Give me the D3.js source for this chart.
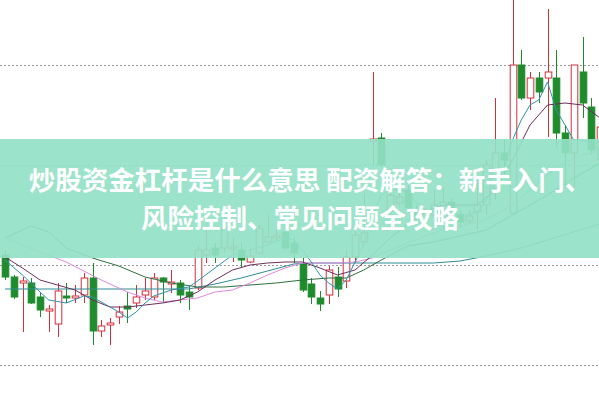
<!DOCTYPE html>
<html>
<head>
<meta charset="utf-8">
<script src="https://cdn.jsdelivr.net/npm/d3@7"></script>
<style>
	html, body { margin: 0; padding: 0; background: #fff; overflow: hidden; }
	#chart { display: block; }
</style>
</head>
<body>
<svg id="chart"></svg>
<script>
// candle data, one entry per trading day
var opens  = [ 11.10, 10.88, 10.82, 10.82, 10.68, 10.54, 10.41, 10.69, 10.67, 10.70,
               10.87, 10.34, 10.40, 10.48, 10.59, 10.62, 10.70, 10.68, 10.87, 10.81,
               10.82, 10.73, 10.77, 11.10, 11.17, 11.17, 11.16, 11.15, 11.03, 11.12,
               11.23, 11.27, 11.33, 11.22, 11.01, 10.81, 10.67, 10.70, 10.88, 10.84,
               11.08, 11.23, 12.24, 12.27, 11.55, 11.62, 11.75, 11.55, 11.45, 11.50,
               11.48, 11.63, 11.50, 11.44, 11.53, 11.60, 11.72, 12.12, 11.52, 13.00,
               12.67, 12.87, 12.87, 12.87, 12.32, 12.12, 12.93, 12.58, 12.05 ];
var closes = [ 10.88, 10.68, 10.84, 10.62, 10.55, 10.56, 10.74, 10.67, 10.69, 10.87,
               10.34, 10.39, 10.42, 10.53, 10.56, 10.68, 10.74, 10.87, 10.83, 10.83,
               10.70, 10.68, 11.15, 11.15, 11.10, 11.37, 11.18, 11.05, 11.09, 11.37,
               11.28, 11.29, 11.17, 11.12, 10.75, 10.68, 10.61, 10.95, 10.76, 11.08,
               11.30, 11.32, 12.26, 12.00, 11.70, 11.68, 11.57, 11.47, 11.53, 11.60,
               11.63, 11.55, 11.43, 11.49, 11.60, 12.00, 12.12, 12.05, 13.00, 12.67,
               12.87, 12.73, 12.93, 12.32, 12.12, 13.00, 12.62, 12.15, 12.38 ];
var highs  = [ 11.15, 10.90, 10.88, 10.87, 10.72, 10.60, 10.82, 10.82, 10.80, 10.92,
               11.02, 10.45, 10.47, 10.59, 10.73, 10.80, 10.87, 10.92, 10.88, 10.95,
               10.85, 10.78, 11.20, 11.35, 11.22, 11.48, 11.28, 11.22, 11.17, 11.40,
               11.50, 11.35, 11.40, 11.28, 11.07, 10.87, 10.74, 10.99, 10.98, 11.15,
               11.35, 11.72, 12.93, 12.32, 11.75, 11.75, 11.80, 11.60, 11.57, 11.75,
               11.77, 11.67, 11.55, 11.55, 11.85, 12.05, 12.67, 12.25, 13.75, 13.15,
               12.93, 12.93, 13.56, 13.15, 12.40, 13.00, 13.28, 12.67, 12.45 ];
var lows   = [ 10.85, 10.66, 10.33, 10.61, 10.48, 10.33, 10.28, 10.62, 10.62, 10.62,
               10.20, 10.28, 10.20, 10.41, 10.42, 10.57, 10.65, 10.65, 10.62, 10.72,
               10.62, 10.55, 10.75, 11.02, 11.02, 11.13, 11.03, 10.97, 11.02, 11.10,
               11.22, 11.23, 11.15, 11.02, 10.73, 10.61, 10.54, 10.61, 10.68, 10.77,
               11.02, 11.20, 12.00, 11.98, 11.50, 11.60, 11.52, 11.40, 11.41, 11.43,
               11.35, 11.51, 11.37, 11.41, 11.35, 11.50, 11.65, 11.92, 11.50, 12.65,
               12.55, 12.62, 12.28, 12.18, 11.78, 11.78, 12.47, 12.10, 12.00 ];

// moving averages as [day, value]
var ma5   = [ [0,11.05],[2,10.90],[4,10.73],[5,10.65],[7,10.62],[9,10.69],[10,10.68],[12,10.58],
              [13,10.53],[14,10.47],[15,10.53],[16,10.62],[17,10.69],[19,10.75],[21,10.78],[22,10.84],
              [24,10.97],[26,11.10],[28,11.15],[30,11.20],[32,11.27],[33,11.25],[34,11.15],[35,11.03],
              [36,10.90],[37,10.82],[38,10.76],[39,10.85],[40,11.03],[41,11.20],[42,11.50],[43,11.70],
              [44,11.75],[45,11.75],[46,11.73],[47,11.63],[48,11.55],[49,11.53],[50,11.53],[51,11.53],
              [52,11.50],[53,11.50],[54,11.53],[55,11.65],[56,11.80],[57,11.95],[58,12.25],[59,12.45],
              [60,12.60],[61,12.65],[62,12.83],[63,12.55],[64,12.40],[65,12.25],[66,12.25],[67,12.20],[68,12.15] ];
var ma10  = [ [0,11.08],[2,10.97],[4,10.85],[6,10.80],[8,10.75],[10,10.65],[12,10.58],[14,10.58],
              [16,10.60],[18,10.62],[20,10.65],[22,10.73],[24,10.85],[26,10.95],[28,11.00],[30,11.02],
              [32,11.03],[34,11.03],[36,10.97],[38,10.90],[40,10.95],[42,11.10],[44,11.27],[46,11.40],
              [48,11.53],[50,11.60],[52,11.60],[54,11.60],[56,11.75],[58,12.05],[60,12.40],[62,12.60],
              [64,12.62],[66,12.60],[68,12.47] ];
var ma20  = [ [0,11.27],[4,11.13],[7,11.03],[11,10.85],[14,10.73],[16,10.67],[18,10.63],[20,10.65],
              [22,10.67],[24,10.73],[26,10.75],[28,10.82],[30,10.90],[32,10.97],[34,11.02],[36,11.02],
              [38,11.02],[40,11.03],[42,11.07],[44,11.15],[46,11.22],[48,11.29],[50,11.35],[52,11.39],
              [54,11.43],[56,11.50],[58,11.60],[60,11.75],[62,11.90],[64,12.03],[66,12.10],[68,12.15] ];
var ma60  = [ [0,11.27],[3,11.39],[5,11.33],[7,11.17],[10,11.07],[13,10.99],[16,10.88],[19,10.82],
              [22,10.78],[25,10.78],[28,10.80],[31,10.82],[34,10.85],[37,10.87],[39,10.87],[41,10.95],
              [43,11.05],[46,11.19],[49,11.23],[51,11.27],[55,11.35],[58,11.50],[62,11.70],[65,11.87],[68,12.02] ];
var ma120 = [ [0,10.76],[21,10.76],[24,10.81],[27,10.87],[30,10.94],[33,11.01],[35,11.02],[49,11.02],
              [52,11.04],[55,11.09],[59,11.17],[62,11.25],[65,11.33],[68,11.41] ];

var gridValues = [ 10, 11, 12, 13 ];

var titleLines = [ "炒股资金杠杆是什么意思 配资解答：新手入门、", "风险控制、常见问题全攻略" ];

var WIDTH  = 599;
var HEIGHT = 399;

var svg = d3.select( "#chart" )
	.attr( "width", WIDTH )
	.attr( "height", HEIGHT );

var x = d3.scaleLinear().domain([ 0, opens.length - 1 ]).range([ 5, 600 ]);
var y = d3.scaleLinear().domain([ 10, 13 ]).range([ 365, 65 ]);

var RED   = "#d3303c";
var GREEN = "#1e8b2c";
var bodyW = 6.6;

// dotted grid
svg.append( "g" )
	.selectAll( "line" )
	.data( gridValues )
	.enter()
	.append( "line" )
		.attr( "x1", 0 )
		.attr( "x2", WIDTH )
		.attr( "y1", function(d){ return Math.round( y( d ) ) + 0.5; } )
		.attr( "y2", function(d){ return Math.round( y( d ) ) + 0.5; } )
		.attr( "stroke", "#999999" )
		.attr( "stroke-width", 1 )
		.attr( "stroke-dasharray", "2,2" );

// candles
var days = d3.range( opens.length ).map(function(i){
	return { i : i, o : opens[i], c : closes[i], h : highs[i], l : lows[i] };
});

var candle = svg.append( "g" )
	.selectAll( "g" )
	.data( days )
	.enter()
	.append( "g" );

candle.append( "line" )
	.attr( "x1", function(d){ return Math.round( x( d.i ) ) + 0.5; } )
	.attr( "x2", function(d){ return Math.round( x( d.i ) ) + 0.5; } )
	.attr( "y1", function(d){ return y( d.h ); } )
	.attr( "y2", function(d){ return y( d.l ); } )
	.attr( "stroke", function(d){ return d.c >= d.o ? RED : GREEN; } )
	.attr( "stroke-width", 1 );

candle.append( "rect" )
	.attr( "x", function(d){ return Math.round( x( d.i ) ) + 0.5 - bodyW / 2; } )
	.attr( "y", function(d){ return y( Math.max( d.o, d.c ) ); } )
	.attr( "width", bodyW )
	.attr( "height", function(d){ return Math.max( 1, Math.abs( y( d.o ) - y( d.c ) ) ); } )
	.attr( "fill", function(d){ return d.c >= d.o ? "#ffffff" : GREEN; } )
	.attr( "stroke", function(d){ return d.c >= d.o ? RED : GREEN; } )
	.attr( "stroke-width", 1 );

// moving averages
var line = d3.line()
	.x(function(d){ return x( d[0] ); })
	.y(function(d){ return y( d[1] ); });

var averages = [
	{ data : ma120, color : "#2f8c94" },
	{ data : ma60,  color : "#2f6f3f" },
	{ data : ma20,  color : "#e08ae0" },
	{ data : ma10,  color : "#6d2f5c" },
	{ data : ma5,   color : "#3392aa" }
];

svg.append( "g" )
	.selectAll( "path" )
	.data( averages )
	.enter()
	.append( "path" )
		.attr( "d", function(d){ return line( d.data ); } )
		.attr( "fill", "none" )
		.attr( "stroke", function(d){ return d.color; } )
		.attr( "stroke-width", 1 );

// title banner over the chart
svg.append( "rect" )
	.attr( "x", 0 )
	.attr( "y", 139 )
	.attr( "width", WIDTH )
	.attr( "height", 119 )
	.attr( "fill", "#92e1c5" )
	.attr( "opacity", 0.92 );

svg.append( "g" )
	.selectAll( "text" )
	.data( titleLines )
	.enter()
	.append( "text" )
		.attr( "x", function(d, i){ return i === 0 ? 310 : 300; } )
		.attr( "y", function(d, i){ return 190 + i * 38; } )
		.attr( "text-anchor", "middle" )
		.attr( "fill", "#ffffff" )
		.style( "font-family", "'Noto Sans CJK SC', sans-serif" )
		.style( "font-weight", "bold" )
		.style( "font-size", "26.5px" )
		.text(function(d){ return d; });
</script>
</body>
</html>
